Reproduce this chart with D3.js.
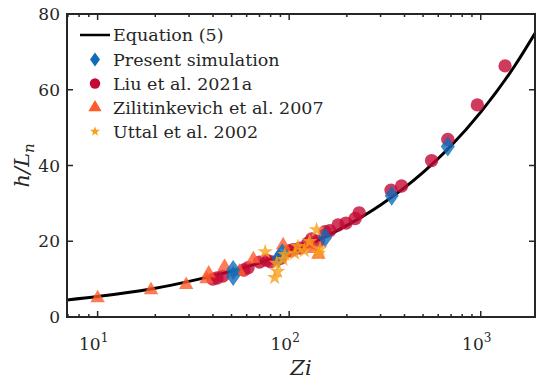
<!DOCTYPE html>
<html>
<head>
<meta charset="utf-8">
<script src="https://cdn.jsdelivr.net/npm/d3@7"></script>
<style>
  body { margin: 0; background: #fff; }
  #chart text { font-family: "DejaVu Serif"; }
</style>
</head>
<body>
<svg id="chart" width="539" height="379"></svg>
<script>
// Equation (5) curve
const curveZi = [6.9, 10, 15, 20, 30, 50, 70, 100, 150, 200, 300, 500, 700, 1000, 1500, 1920];
const curveH  = [4.5, 5.4, 6.6, 7.6, 9.4, 12.1, 14.3, 17.1, 20.9, 24.2, 29.6, 38.2, 45.2, 54.1, 66.2, 74.9];

// Present simulation (diamonds)
const presentZi = [51, 51, 88, 92, 154, 343, 673];
const presentH  = [12.4, 10.8, 15.5, 16.8, 21, 32, 45];

// Liu et al. 2021a (circles)
const liuZi = [40, 42, 45, 58, 61, 70, 76, 80, 90, 101, 105, 114, 125, 131, 142, 154, 163, 180, 198, 221, 232, 340, 386, 554, 673, 960, 1340];
const liuH  = [10.0, 10.3, 10.8, 12.4, 13.0, 14.5, 15.0, 14.6, 15.5, 17.5, 17.8, 18.2, 19.5, 20.6, 20.0, 22.5, 22.8, 24.3, 24.8, 26, 27.5, 33.5, 34.6, 41.3, 46.9, 56, 66.3];

// Zilitinkevich et al. 2007 (triangles)
const ziliZi = [10, 19, 29, 37, 38, 46, 55, 65, 93, 97, 126, 134, 142];
const ziliH  = [5.0, 7.1, 8.5, 10.0, 11.5, 13.3, 12.0, 15.3, 19, 17, 19, 18, 16.5];

// Uttal et al. 2002 (stars)
const uttalZi = [75, 84, 86, 87, 93, 95, 107, 111, 120, 128, 139, 142, 145];
const uttalH  = [17.2, 10.4, 14.2, 12.0, 15.2, 16.5, 16.8, 18.6, 17.5, 19.9, 23, 16.8, 18];

const yTicks = [0, 20, 40, 60, 80];
const xTicks = [10, 100, 1000];
const xTickExp = ["1", "2", "3"];
const legendLabels = ["Equation (5)", "Present simulation", "Liu et al. 2021a", "Zilitinkevich et al. 2007", "Uttal et al. 2002"];

const colBlue = "#0f6cb8", colRed = "#c40a34", colTri = "#ff5a2a", colStar = "#f7a01c";
const ink = "#262626";

const svg = d3.select("#chart");
const L = 67, R = 535, T = 14, B = 317;

const x = d3.scaleLog().domain([6.92, 1920]).range([L, R]);
const y = d3.scaleLinear().domain([0, 80]).range([B, T]);

// wide matlab-like diamond
const diamond = (w, h) => "M0," + (-h) + "L" + w + ",0L0," + h + "L" + (-w) + ",0Z";

svg.append("defs").append("clipPath").attr("id", "clip")
  .append("rect").attr("x", L).attr("y", T).attr("width", R - L).attr("height", B - T);

const plot = svg.append("g").attr("clip-path", "url(#clip)");

// curve
const line = d3.line().x(d => x(d[0])).y(d => y(d[1])).curve(d3.curveMonotoneX);
plot.append("path")
  .datum(d3.zip(curveZi, curveH))
  .attr("d", line)
  .attr("fill", "none").attr("stroke", "#000").attr("stroke-width", 3);

function drawSeries(zi, h, shape, color) {
  plot.append("g").selectAll("path")
    .data(d3.zip(zi, h))
    .join("path")
    .attr("transform", d => "translate(" + x(d[0]) + "," + y(d[1]) + ")")
    .attr("d", shape)
    .attr("fill", color)
    .attr("fill-opacity", 0.8);
}
drawSeries(liuZi, liuH, d3.symbol(d3.symbolCircle, 140)(), colRed);
drawSeries(ziliZi, ziliH, d3.symbol(d3.symbolTriangle, 90)(), colTri);
drawSeries(presentZi, presentH, diamond(7, 10), colBlue);
drawSeries(uttalZi, uttalH, d3.symbol(d3.symbolStar, 75)(), colStar);

// box + ticks
const ax = svg.append("g");
ax.append("rect").attr("x", L).attr("y", T).attr("width", R - L).attr("height", B - T)
  .attr("fill", "none").attr("stroke", ink).attr("stroke-width", 2);

const minor = [];
[1, 10, 100, 1000].forEach(dec => {
  for (let k = 2; k <= 9; k++) {
    const v = dec * k;
    if (v > x.domain()[0] && v < x.domain()[1]) minor.push(v);
  }
});
minor.forEach(v => {
  ax.append("line").attr("x1", x(v)).attr("x2", x(v)).attr("y1", B).attr("y2", B - 3).attr("stroke", ink).attr("stroke-width", 1.5);
  ax.append("line").attr("x1", x(v)).attr("x2", x(v)).attr("y1", T).attr("y2", T + 3).attr("stroke", ink).attr("stroke-width", 1.5);
});
xTicks.forEach((v, i) => {
  ax.append("line").attr("x1", x(v)).attr("x2", x(v)).attr("y1", B).attr("y2", B - 6).attr("stroke", ink).attr("stroke-width", 1.5);
  ax.append("line").attr("x1", x(v)).attr("x2", x(v)).attr("y1", T).attr("y2", T + 6).attr("stroke", ink).attr("stroke-width", 1.5);
  const t = ax.append("text").attr("x", x(v) - 4).attr("y", 350).attr("text-anchor", "middle").attr("font-size", 17).attr("fill", ink);
  t.append("tspan").text("10");
  t.append("tspan").attr("dy", -8).attr("font-size", 12).text(xTickExp[i]);
});
yTicks.forEach(v => {
  ax.append("line").attr("x1", L).attr("x2", L + 6).attr("y1", y(v)).attr("y2", y(v)).attr("stroke", ink).attr("stroke-width", 1.5);
  ax.append("line").attr("x1", R).attr("x2", R - 6).attr("y1", y(v)).attr("y2", y(v)).attr("stroke", ink).attr("stroke-width", 1.5);
  ax.append("text").attr("x", L - 7).attr("y", y(v) + 6).attr("text-anchor", "end").attr("font-size", 17).attr("fill", ink).text(v);
});

// axis labels
svg.append("text").attr("x", (L + R) / 2).attr("y", 375).attr("text-anchor", "middle")
  .attr("font-size", 21).attr("font-style", "italic").attr("fill", ink).text("Zi");
const yl = svg.append("text").attr("transform", "translate(29," + ((T + B) / 2) + ") rotate(-90)")
  .attr("text-anchor", "middle").attr("font-size", 21).attr("font-style", "italic").attr("fill", ink);
yl.append("tspan").text("h/L");
yl.append("tspan").attr("dy", 5).attr("font-size", 15).text("n");

// legend
const lg = svg.append("g");
const rowY = [35, 59.5, 83.5, 107.5, 131.5];
lg.append("line").attr("x1", 80).attr("x2", 110).attr("y1", rowY[0]).attr("y2", rowY[0])
  .attr("stroke", "#000").attr("stroke-width", 2.5);
const legSym = [
  [diamond(5, 7), colBlue],
  [d3.symbol(d3.symbolCircle, 85)(), colRed],
  [d3.symbol(d3.symbolTriangle, 75)(), colTri],
  [d3.symbol(d3.symbolStar, 32)(), colStar]
];
legSym.forEach((s, i) => {
  lg.append("path").attr("transform", "translate(95," + rowY[i + 1] + ")")
    .attr("d", s[0]).attr("fill", s[1]);
});
legendLabels.forEach((t, i) => {
  lg.append("text").attr("x", 113).attr("y", rowY[i] + 6).attr("font-size", 17.5).attr("fill", ink).text(t);
});
</script>
</body>
</html>
